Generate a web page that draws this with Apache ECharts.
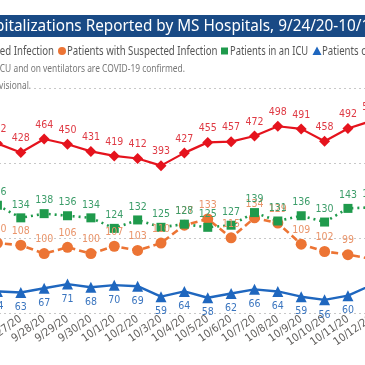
<!DOCTYPE html>
<html><head><meta charset="utf-8">
<script src="https://cdn.jsdelivr.net/npm/echarts@6/dist/echarts.min.js"></script>
<style>html,body{margin:0;padding:0;background:#fff}#c{width:365px;height:365px}</style>
</head><body><div id="c"></div>
<script>
const dates = ['9/24/20','9/25/20','9/26/20','9/27/20','9/28/20','9/29/20','9/30/20','10/1/20','10/2/20','10/3/20','10/4/20','10/5/20','10/6/20','10/7/20','10/8/20','10/9/20','10/10/20','10/11/20','10/12/20'];
const confirmed = [430, 445, 452, 428, 464, 450, 431, 419, 412, 393, 427, 455, 457, 472, 498, 491, 458, 492, 512];
const suspected = [112, 115, 110, 108, 100, 106, 100, 107, 103, 110, 127, 133, 115, 134, 129, 109, 102, 99, 95];
const icu = [140, 143, 146, 134, 138, 136, 134, 124, 132, 125, 128, 125, 127, 139, 131, 136, 130, 143, 144];
const vent = [62, 63, 64, 63, 67, 71, 68, 70, 69, 59, 64, 58, 62, 66, 64, 59, 56, 60, 70];
const titleText = 'COVID-19 Hospitalizations Reported by MS Hospitals, 9/24/20-10/12/20';
const legendNames = ['Patients with Confirmed Infection','Patients with Suspected Infection','Patients in an ICU','Patients on Ventilators'];
const noteLine1 = 'Patients in an ICU and on ventilators are COVID-19 confirmed.';
const noteLine2 = 'Data for the most recent dates is provisional.';

const C = {red:'#e5131d', orange:'#ec7434', green:'#1f9a4c', blue:'#1f67bf'};
const LF = "'Liberation Sans Narrow','DejaVu Sans Condensed',sans-serif";

const chart = echarts.init(document.getElementById('c'), null, {renderer:'canvas'});
function lbl(color, pos){ return {show:true, position:pos, distance:pos==='bottom'?4:3, color:color, fontFamily:LF, fontSize:10.5}; }
const opt = {
  animation:false,
  backgroundColor:'#fff',
  grid:{left:-61, right:-18, top:88, bottom:52, containLabel:false, outerBoundsMode:'none'},
  xAxis:{type:'category', data:dates, boundaryGap:true,
    axisLine:{show:false}, axisTick:{show:false}, splitLine:{show:false},
    axisLabel:{interval:0, rotate:35, margin:5, color:'#605e5c', fontFamily:LF, fontSize:11, hideOverlap:false}},
  yAxis:[
    {type:'value', min:0, max:600, interval:200, axisLabel:{show:false}, axisLine:{show:false}, axisTick:{show:false},
     splitLine:{show:true, lineStyle:{color:'#c8c8c8', width:1, type:[2,3]}}},
    {type:'value', min:43.5, max:257.5, show:false, splitLine:{show:false}}
  ],
  graphic:[
    {type:'rect', shape:{x:0,y:15,width:365,height:22}, style:{fill:'#194a85'}, z:100, silent:true},
    {type:'text', x:-106, y:26.5, scaleX:0.9, z:101, style:{text:titleText, fill:'#fff', font:"17px 'Noto Sans'", textAlign:'left', textVerticalAlign:'middle'}},
    {type:'text', x:54, y:51, scaleX:0.77, z:101, style:{text:legendNames[0], fill:'#555', font:"12.5px 'Noto Sans'", textAlign:'right', textVerticalAlign:'middle'}},
    {type:'circle', shape:{cx:62, cy:51, r:4}, style:{fill:C.orange}, z:101},
    {type:'text', x:67, y:51, scaleX:0.77, z:101, style:{text:legendNames[1], fill:'#555', font:"12.5px 'Noto Sans'", textAlign:'left', textVerticalAlign:'middle'}},
    {type:'rect', shape:{x:221, y:47.5, width:7, height:7}, style:{fill:C.green}, z:101},
    {type:'text', x:230, y:51, scaleX:0.75, z:101, style:{text:legendNames[2], fill:'#555', font:"12.5px 'Noto Sans'", textAlign:'left', textVerticalAlign:'middle'}},
    {type:'polygon', shape:{points:[[317,46.5],[321.5,55],[312.5,55]]}, style:{fill:C.blue}, z:101},
    {type:'text', x:322, y:51, scaleX:0.77, z:101, style:{text:legendNames[3], fill:'#555', font:"12.5px 'Noto Sans'", textAlign:'left', textVerticalAlign:'middle'}},
    {type:'text', x:185, y:69, scaleX:0.73, z:101, style:{text:noteLine1, fill:'#777', font:"11.5px 'Noto Sans'", textAlign:'right', textVerticalAlign:'middle'}},
    {type:'text', x:34, y:86, scaleX:0.73, z:101, style:{text:noteLine2, fill:'#777', font:"11.5px 'Noto Sans'", textAlign:'right', textVerticalAlign:'middle', backgroundColor:'#fff', padding:[1,4,1,0]}}
  ],
  series:[
    {name:legendNames[0], type:'line', yAxisIndex:0, data:confirmed, symbol:'diamond', symbolSize:11,
     lineStyle:{color:C.red, width:2.2}, itemStyle:{color:C.red}, label:lbl('#df3a44','top')},
    {name:legendNames[1], type:'line', yAxisIndex:1, data:suspected, symbol:'circle', symbolSize:11,
     lineStyle:{color:C.orange, width:2.6, type:[7,4]}, itemStyle:{color:C.orange}, label:lbl('#e9946a','top')},
    {name:legendNames[2], type:'line', yAxisIndex:1, data:icu, symbol:'rect', symbolSize:9,
     lineStyle:{color:C.green, width:2.6, type:[2,4]}, itemStyle:{color:C.green}, label:lbl('#3c9d69','top')},
    {name:legendNames[3], type:'line', yAxisIndex:1, data:vent, symbol:'triangle', symbolSize:11,
     lineStyle:{color:C.blue, width:2.4}, itemStyle:{color:C.blue}, label:lbl('#3a75bf','bottom')}
  ]
};
chart.setOption(opt);
</script></body></html>
